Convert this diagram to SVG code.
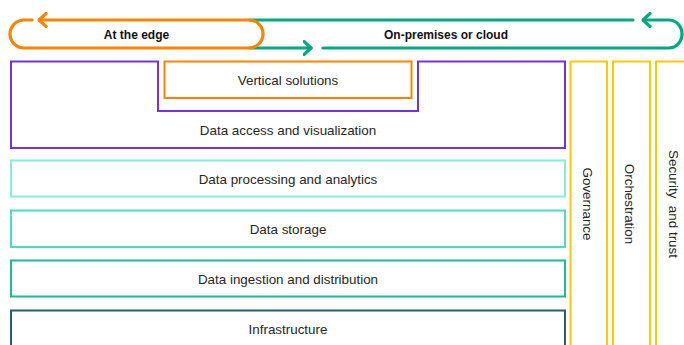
<svg xmlns="http://www.w3.org/2000/svg" width="684" height="345" viewBox="0 0 684 345">
<defs>
<style>
.lbl{font-family:"Liberation Sans",Arial,sans-serif;font-size:13.4px;fill:#262626;text-anchor:middle}
.hdr{font-family:"Liberation Sans",Arial,sans-serif;font-size:12px;font-weight:bold;fill:#111;text-anchor:middle}
.box{fill:none;stroke-width:2}
.col{fill:none;stroke:#FEC901;stroke-width:2}
.flow{fill:none;stroke-width:3.2;stroke-linecap:round;stroke-linejoin:round}
</style>
<marker id="ahG" viewBox="0 0 10 16" refX="8.5" refY="8" markerWidth="10" markerHeight="16" markerUnits="userSpaceOnUse" orient="auto">
<path d="M1.5 1.5 L8.5 8 L1.5 14.5" fill="none" stroke="#01A982" stroke-width="3.2" stroke-linecap="round" stroke-linejoin="round"/>
</marker>
<marker id="ahO" viewBox="0 0 10 16" refX="8.5" refY="8" markerWidth="10" markerHeight="16" markerUnits="userSpaceOnUse" orient="auto">
<path d="M1.5 1.5 L8.5 8 L1.5 14.5" fill="none" stroke="#FF8300" stroke-width="3.2" stroke-linecap="round" stroke-linejoin="round"/>
</marker>
</defs>
<rect width="684" height="345" fill="#fff"/>

<g id="connectors">
<path class="flow" stroke="#01A982" d="M633 20 H250"/>
<path class="flow" stroke="#01A982" d="M250 48 H311" marker-end="url(#ahG)"/>
<path class="flow" stroke="#01A982" d="M323 48 H669 A13 14 0 0 0 669 20 H643" marker-end="url(#ahG)"/>
<path class="flow" stroke="#FF8300" d="M32 20 H24 A14 14 0 0 0 24 48 H249 A14 14 0 0 0 249 20 H39" marker-end="url(#ahO)"/>
</g>

<g id="edge">
<text class="hdr" x="136.5" y="38.5">At the edge</text>
</g>
<g id="cloud">
<text class="hdr" x="446" y="38.5">On-premises or cloud</text>
</g>

<g id="access">
<path class="box" stroke="#7630EA" d="M11 61.5 H158 V111 H418 V61.5 H565 V148 H11 Z"/>
<text class="lbl" x="288" y="134.5">Data access and visualization</text>
</g>
<g id="vertical">
<rect class="box" stroke="#FF8300" x="164.5" y="61.5" width="247" height="36.5"/>
<text class="lbl" x="288" y="84.5">Vertical solutions</text>
</g>
<g id="processing">
<rect class="box" stroke="#82F0DC" x="11" y="160.5" width="554" height="36"/>
<text class="lbl" x="288" y="183.5">Data processing and analytics</text>
</g>
<g id="storage">
<rect class="box" stroke="#4FDAC4" x="11" y="210.5" width="554" height="36.5"/>
<text class="lbl" x="288" y="233.5">Data storage</text>
</g>
<g id="ingestion">
<rect class="box" stroke="#1DBA96" x="11" y="260.5" width="554" height="36"/>
<text class="lbl" x="288" y="283.5">Data ingestion and distribution</text>
</g>
<g id="infrastructure">
<rect class="box" stroke="#255E6E" x="11" y="310.5" width="554" height="50"/>
<text class="lbl" x="288" y="333.5">Infrastructure</text>
</g>

<g id="governance">
<rect class="col" x="570.5" y="61.5" width="36.5" height="300"/>
<text class="lbl" transform="translate(587,204) rotate(90)" x="0" y="0" dominant-baseline="central">Governance</text>
</g>
<g id="orchestration">
<rect class="col" x="613" y="61.5" width="37" height="300"/>
<text class="lbl" transform="translate(629,204) rotate(90)" x="0" y="0" dominant-baseline="central">Orchestration</text>
</g>
<g id="security">
<rect class="col" x="656" y="61.5" width="40" height="300"/>
<text class="lbl" transform="translate(673,204) rotate(90)" x="0" y="0" dominant-baseline="central" xml:space="preserve">Security  and trust</text>
</g>
</svg>
